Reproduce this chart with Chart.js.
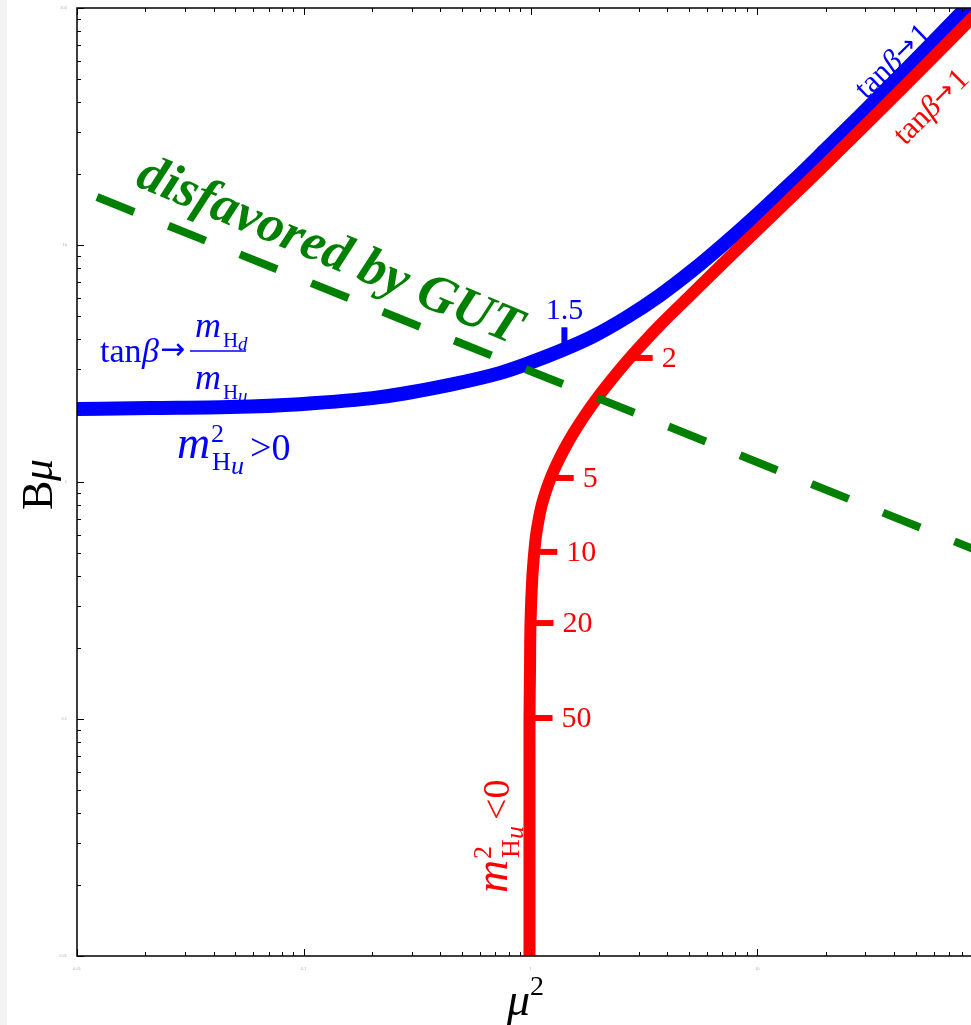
<!DOCTYPE html>
<html>
<head>
<meta charset="utf-8">
<script src="https://cdn.jsdelivr.net/npm/chart.js@4.4.1/dist/chart.umd.min.js"></script>
<style>
  html, body { margin: 0; padding: 0; overflow: hidden; }
  body { background: linear-gradient(to right, #f3f3f3 0 7px, #fff 7px); }
  #wrap { position: relative; width: 990px; height: 1025px; }
</style>
</head>
<body>
<div id="wrap"><canvas id="c" width="990" height="1025"></canvas></div>
<script>
// axis ranges (log-log, 4 decades each)
const xMin = 0.01, xMax = 100;
const yMin = 0.01, yMax = 100;
const tickMantissas = [1, 2, 3, 4, 5, 6, 7, 8, 9];
const tickDecades = [0.01, 0.1, 1, 10];
const logTicks = tickDecades.flatMap(d => tickMantissas.map(m => +(m * d).toPrecision(3))).concat([100]);

// m_Hu^2 > 0 branch (blue)
const bluMu2 = [0.0100, 0.0210, 0.0472, 0.0960, 0.216, 0.440, 0.730, 0.990, 1.41, 1.88, 2.65, 3.70, 5.17, 7.30, 10.2, 14.3, 20.1, 28.1, 39.3, 55.5, 77.6, 99.0];
const bluBmu = [2.03, 2.05, 2.07, 2.13, 2.28, 2.57, 2.88, 3.18, 3.63, 4.11, 4.95, 6.11, 7.80, 10.3, 13.7, 18.5, 25.4, 34.8, 47.9, 67.1, 93.4, 119];

// m_Hu^2 < 0 branch (red)
const redMu2 = [0.990, 0.990, 0.990, 0.990, 0.995, 1.000, 1.017, 1.039, 1.057, 1.085, 1.121, 1.174, 1.237, 1.318, 1.426, 1.558, 1.729, 1.938, 2.270, 2.738, 3.660, 5.088, 7.083, 9.82, 13.76, 19.43, 27.63, 38.74, 55.25, 78.58, 101.0];
const redBmu = [0.0100, 0.0280, 0.0671, 0.101, 0.161, 0.254, 0.386, 0.507, 0.592, 0.691, 0.800, 0.925, 1.060, 1.214, 1.405, 1.626, 1.899, 2.218, 2.694, 3.337, 4.51, 6.15, 8.40, 11.35, 15.48, 21.3, 29.7, 40.9, 57.5, 80.8, 103];

// tanβ markers
const redTickTan = ["2", "5", "10", "20", "50"];
const redTickMu2 = [2.738, 1.228, 1.039, 1.000, 0.990];
const redTickBmu = [3.337, 1.040, 0.507, 0.254, 0.101];
const bluTickTan = ["1.5"];
const bluTickMu2 = [1.411];
const bluTickBmu = [3.630];

// GUT boundary (green dashed)
const gutMu2 = [0.01225, 100];
const gutBmu = [15.94, 0.5006];

const BLUE = "#0000ff", RED = "#ff0000", GREEN = "#008000";
const SERIF = '"Liberation Serif", "Times New Roman", serif';
const ARROW = '"DejaVu Sans", sans-serif';

const pts = (xs, ys) => xs.map((v, i) => ({ x: v, y: ys[i] }));
const isMajor = v => Math.abs(Math.log10(v) - Math.round(Math.log10(v))) < 1e-6;

// draw text pieces: [text, font, dx, dy]
function runs(ctx, x0, y0, list) {
  list.forEach(([t, f, dx, dy]) => {
    ctx.font = f;
    ctx.fillText(t, x0 + dx, y0 + dy);
  });
}

// tanβ→1 label drawn along the asymptote
function tanOne(ctx, size) {
  let cx = 0;
  [["tan", size + "px " + SERIF, 0],
   ["β", "italic " + size + "px " + SERIF, 0],
   ["→", Math.round(size * 0.85) + "px " + ARROW, -2],
   ["1", size + "px " + SERIF, 0]].forEach(([t, f, dy]) => {
    ctx.font = f;
    ctx.fillText(t, cx, dy);
    cx += ctx.measureText(t).width + (t === "→" ? 2 : 0);
  });
}

const decor = {
  id: "decor",
  afterDatasetsDraw(chart) {
    const { ctx, scales: { x, y } } = chart;
    ctx.save();
    ctx.lineCap = "butt";
    // red tanβ ticks + labels
    ctx.strokeStyle = RED; ctx.fillStyle = RED; ctx.lineWidth = 6;
    ctx.font = "30px " + SERIF; ctx.textBaseline = "middle"; ctx.textAlign = "left";
    redTickTan.forEach((t, i) => {
      const px = x.getPixelForValue(redTickMu2[i]), py = y.getPixelForValue(redTickBmu[i]);
      ctx.beginPath(); ctx.moveTo(px, py); ctx.lineTo(px + 23, py); ctx.stroke();
      ctx.fillText(t, px + 32, py + 1);
    });
    // blue tanβ tick
    ctx.strokeStyle = BLUE; ctx.fillStyle = BLUE;
    ctx.textAlign = "center"; ctx.textBaseline = "alphabetic";
    bluTickTan.forEach((t, i) => {
      const px = x.getPixelForValue(bluTickMu2[i]), py = y.getPixelForValue(bluTickBmu[i]);
      ctx.beginPath(); ctx.moveTo(px, py); ctx.lineTo(px, py - 22); ctx.stroke();
      ctx.fillText(t, px, py - 30);
    });
    ctx.restore();
  },
  afterDraw(chart) {
    const { ctx, chartArea: a, scales: { x, y } } = chart;
    ctx.save();
    // frame
    ctx.strokeStyle = "#000"; ctx.lineWidth = 1.5;
    ctx.strokeRect(a.left, a.top, a.right - a.left, a.bottom - a.top);
    // inward ticks on all four sides
    ctx.lineWidth = 1;
    ctx.beginPath();
    x.ticks.forEach(t => {
      const px = Math.round(x.getPixelForValue(t.value)) + 0.5, len = isMajor(t.value) ? 7 : 4;
      ctx.moveTo(px, a.bottom); ctx.lineTo(px, a.bottom - len);
      ctx.moveTo(px, a.top); ctx.lineTo(px, a.top + len);
    });
    y.ticks.forEach(t => {
      const py = Math.round(y.getPixelForValue(t.value)) + 0.5, len = isMajor(t.value) ? 7 : 4;
      ctx.moveTo(a.left, py); ctx.lineTo(a.left + len, py);
      ctx.moveTo(a.right, py); ctx.lineTo(a.right - len, py);
    });
    ctx.stroke();

    ctx.textAlign = "left"; ctx.textBaseline = "alphabetic";

    // GUT annotation
    ctx.save();
    ctx.fillStyle = GREEN;
    ctx.translate(324, 265);
    ctx.rotate(22.8 * Math.PI / 180);
    ctx.font = "italic bold 53px " + SERIF;
    ctx.textAlign = "center";
    ctx.fillText("disfavored by GUT", 0, 0);
    ctx.restore();

    // blue: tanβ → m_Hd / m_Hu
    ctx.fillStyle = BLUE;
    runs(ctx, 100, 362, [
      ["tan", "34px " + SERIF, 0, 0],
      ["β", "italic 34px " + SERIF, 42, 0],
      ["→", "30px " + ARROW, 60, -3]
    ]);
    runs(ctx, 195, 0, [
      ["m", "italic 36px " + SERIF, 0, 337],
      ["H", "21px " + SERIF, 28, 347],
      ["d", "italic 19px " + SERIF, 43, 350],
      ["m", "italic 36px " + SERIF, 0, 389],
      ["H", "21px " + SERIF, 28, 399],
      ["u", "italic 19px " + SERIF, 43, 402]
    ]);
    ctx.strokeStyle = BLUE; ctx.lineWidth = 1.5;
    ctx.beginPath(); ctx.moveTo(190, 351); ctx.lineTo(246, 351); ctx.stroke();

    const mHu = sign => [
      ["m", "italic 46px " + SERIF, 0, 0],
      ["2", "26px " + SERIF, 34, -16],
      ["H", "26px " + SERIF, 35, 12],
      ["u", "italic 26px " + SERIF, 54, 16],
      [sign + "0", "38px " + SERIF, 73, 2]
    ];
    runs(ctx, 177, 458, mHu(">"));

    // blue tanβ→1
    ctx.save();
    ctx.translate(866, 100);
    ctx.rotate(-44 * Math.PI / 180);
    tanOne(ctx, 31);
    ctx.restore();

    // red labels
    ctx.fillStyle = RED;
    ctx.save();
    ctx.translate(905, 146);
    ctx.rotate(-45 * Math.PI / 180);
    tanOne(ctx, 31);
    ctx.restore();

    ctx.save();
    ctx.translate(507, 893);
    ctx.rotate(-Math.PI / 2);
    runs(ctx, 0, 0, mHu("<"));
    ctx.restore();

    // axis titles
    ctx.fillStyle = "#000";
    ctx.save();
    ctx.translate(52, 510);
    ctx.rotate(-Math.PI / 2);
    runs(ctx, 0, 0, [
      ["B", "44px " + SERIF, 0, 0],
      ["μ", "italic 44px " + SERIF, 29, 0]
    ]);
    ctx.restore();
    runs(ctx, 507, 1015, [
      ["μ", "italic 46px " + SERIF, 0, 0],
      ["2", "28px " + SERIF, 23, -20]
    ]);
    ctx.restore();
  }
};

const logAxis = (min, max, pos, fit) => ({
  type: "logarithmic",
  position: pos,
  min: min, max: max,
  grid: { display: false },
  border: { display: false },
  afterBuildTicks: s => { s.ticks = logTicks.filter(v => v >= min && v <= max).map(v => ({ value: v })); },
  afterFit: fit,
  ticks: {
    autoSkip: false, maxRotation: 0, padding: 2,
    color: "#b0b0b0", font: { size: 4 },
    callback: v => (isMajor(v) ? String(v) : "")
  }
});

new Chart(document.getElementById("c"), {
  type: "scatter",
  data: {
    datasets: [
      { data: pts(gutMu2, gutBmu), showLine: true, borderColor: GREEN, borderWidth: 8,
        borderDash: [40, 37], borderCapStyle: "butt", pointRadius: 0, clip: 0 },
      { data: pts(redMu2, redBmu), showLine: true, borderColor: RED, borderWidth: 12,
        tension: 0.35, pointRadius: 0, clip: 0 },
      { data: pts(bluMu2, bluBmu), showLine: true, borderColor: BLUE, borderWidth: 14,
        cubicInterpolationMode: "monotone", pointRadius: 0, clip: 0 }
    ]
  },
  options: {
    responsive: false,
    animation: false,
    devicePixelRatio: 1,
    layout: { padding: { top: 8, right: 6, left: 0, bottom: 0 } },
    plugins: { legend: { display: false }, tooltip: { enabled: false } },
    scales: {
      x: logAxis(xMin, xMax, "bottom", s => { s.height = 69; }),
      y: logAxis(yMin, yMax, "left", s => { s.width = 77; })
    }
  },
  plugins: [decor]
});
</script>
</body>
</html>
